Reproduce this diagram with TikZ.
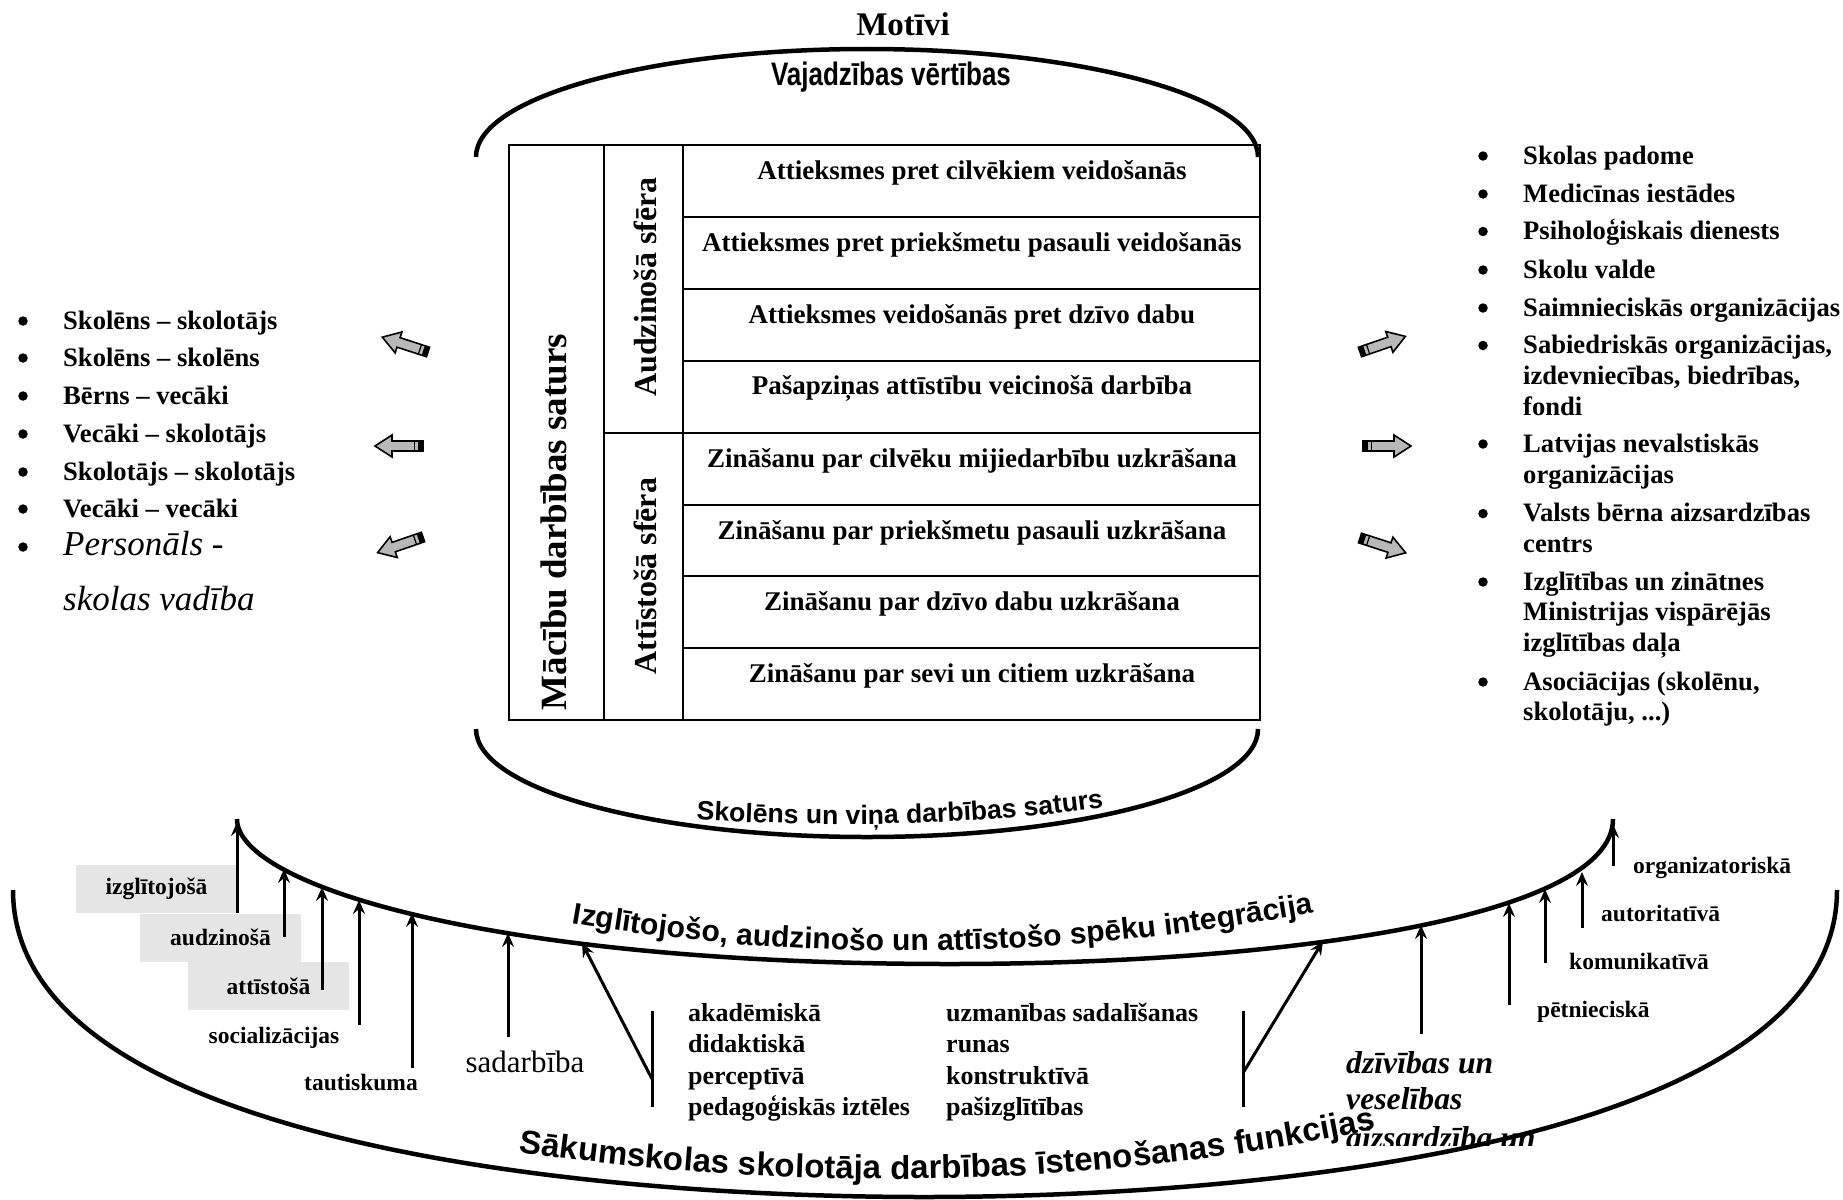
\documentclass[tikz,border=0pt]{standalone}
\usepackage{fontspec}
\setmainfont{Liberation Serif}
\setsansfont{Liberation Sans}
\usepackage{graphicx}
\usepackage{tikz}
\usetikzlibrary{arrows.meta,positioning,calc,decorations.text}

\newcommand{\fsz}[1]{\fontsize{#1}{#1}\selectfont}
% grey block arrow with striped tail: tail x, tail y, angle
\newcommand{\hollowarrow}[3]{%
  \begin{scope}[shift={(#1,#2)}, rotate=#3]
    \filldraw[fill=black!28, line width=1.6pt, line join=miter]
      (0,-5) -- (31,-5) -- (31,-11) -- (48,0) -- (31,11) -- (31,5) -- (0,5) -- cycle;
    \fill (0,-5) rectangle (5,5);
    \draw[line width=1.2pt] (8.5,-5) -- (8.5,5);
  \end{scope}}

\tikzset{
  bowl/.style={line width=4.5pt},
  cellline/.style={line width=2pt},
  celltext/.style={font=\bfseries\fsz{27}},
  sidetext/.style={font=\bfseries\fsz{32}, rotate=90},
  item/.style={font=\bfseries\fsz{26.6}, anchor=base west},
  blt/.style={circle, fill, minimum size=9.5pt},
  funclabel/.style={font=\bfseries\fsz{23.5}},
  skill/.style={font=\bfseries\fsz{26}, anchor=base west},
  greybox/.style={fill=black!10, minimum width=161pt, minimum height=48pt},
  upto/.style={line width=3pt, -{Stealth[length=14pt,width=12pt,inset=5pt]}},
  barline/.style={line width=3pt},
}

\begin{document}
\begin{tikzpicture}[x=1pt, y=-1pt, >=Stealth, every node/.style={inner sep=0pt}]
  \useasboundingbox (0,0) rectangle (1843,1199);

  % upper bowl
  \node[font=\bfseries\fsz{33}] (motivi) at (903,24) {Motīvi};
  \node[font=\sffamily\bfseries\fsz{26}] (vajad) at (891,77) {\scalebox{1}[1.25]{Vajadzības vērtības}};
  \draw[bowl] (476,157) .. controls (476,97) and (651,49) .. (867,49)
                        .. controls (1083,49) and (1258,97) .. (1258,157);
  \draw[bowl] (476,729) .. controls (476,789) and (651,837) .. (867,837)
                        .. controls (1083,837) and (1258,789) .. (1258,729);
  \path[decorate, decoration={text along path, text align=center,
      text={|\sffamily\bfseries\fsz{26.6}|Skolēns un viņa darbības saturs}}]
    (685,819) .. controls (830,828) and (980,826) .. (1115,806);

  % table
  \draw[cellline] (509,145) rectangle (1260,720);
  \draw[cellline] (604,145) -- (604,720) (683,145) -- (683,720);
  \draw[cellline] (604,432.5) -- (1260,432.5);
  \foreach \i in {1,2,3,5,6,7}
    \draw[cellline] (683,{145+71.9*\i}) -- (1260,{145+71.9*\i});
  \foreach \t [count=\i] in {Attieksmes pret cilvēkiem veidošanās,
      Attieksmes pret priekšmetu pasauli veidošanās,
      Attieksmes veidošanās pret dzīvo dabu,
      Pašapziņas attīstību veicinošā darbība,
      Zināšanu par cilvēku mijiedarbību uzkrāšana,
      Zināšanu par priekšmetu pasauli uzkrāšana,
      Zināšanu par dzīvo dabu uzkrāšana,
      Zināšanu par sevi un citiem uzkrāšana}
    \node[celltext] (cell\i) at (972,{101+71.9*\i}) {\t};
  \node[sidetext, font=\bfseries\fsz{37}] (saturs) at (554,522) {Mācību darbības saturs};
  \node[sidetext] (audz) at (645,287) {Audzinošā sfēra};
  \node[sidetext] (attist) at (645,576) {Attīstošā sfēra};

  % left partners
  \foreach \y/\t [count=\i] in {321/Skolēns – skolotājs, 358/Skolēns – skolēns,
      396/Bērns – vecāki, 434/Vecāki – skolotājs, 472/Skolotājs – skolotājs,
      509/Vecāki – vecāki} {
    \node[blt] (lb\i) at (23,\y) {};
    \node[item] (li\i) at (63,{\y+8}) {\t};
  }
  \node[blt] (lb7) at (23,547) {};
  \node[font=\itshape\fsz{35}, anchor=base west] (li7) at (63,555) {Personāls -};
  \node[font=\itshape\fsz{35}, anchor=base west] (li8) at (63,610) {skolas vadība};

  % right partners
  \foreach \y [count=\i] in {156,194,231.5,270,308,345.5,444,513.6,582,682}
    \node[blt] (rb\i) at (1483,\y) {};
  \foreach \y/\t [count=\i] in {156/Skolas padome, 194/Medicīnas iestādes,
      231.5/Psiholoģiskais dienests, 270/Skolu valde,
      308/Saimnieciskās organizācijas, 345.5/{Sabiedriskās organizācijas,},
      376/{izdevniecības, biedrības,}, 407/fondi, 444/Latvijas nevalstiskās,
      475/organizācijas, 513.6/Valsts bērna aizsardzības, 544/centrs,
      582/Izglītības un zinātnes, 612/Ministrijas vispārējās,
      643/izglītības daļa, 682/{Asociācijas (skolēnu,}, 712/{skolotāju, ...)}}
    \node[item] (ri\i) at (1523,{\y+8}) {\t};

  % block arrows
  \hollowarrow{428}{352}{162}
  \hollowarrow{423}{446}{180}
  \hollowarrow{423}{537}{199}
  \hollowarrow{1360}{352}{19}
  \hollowarrow{1363}{446}{0}
  \hollowarrow{1360}{538}{-18}

  % lower bowls: functions
  \draw[bowl] (237,819) .. controls (237,885) and (490,964) .. (950,964)
              .. controls (1280,964) and (1613,918) .. (1613,819);
  \path[decorate, decoration={text along path, text align=center,
      text={|\sffamily\bfseries\fsz{30}|Izglītojošo, audzinošo un attīstošo spēku integrācija}}]
    (555,920) .. controls (800,965) and (1060,960) .. (1330,910);

  \begin{scope}
    \clip (1330,1030) rectangle (1600,1145);
    \node[font=\bfseries\itshape\fsz{31.7}, anchor=base west] (dziv1) at (1346,1073) {dzīvības un};
    \node[font=\bfseries\itshape\fsz{31.7}, anchor=base west] (dziv2) at (1346,1109) {veselības};
    \node[font=\bfseries\itshape\fsz{31.7}, anchor=base west] (dziv3) at (1346,1148) {aizsardzība un};
  \end{scope}

  \draw[bowl] (13,890) .. controls (13,1136) and (560,1197) .. (924,1197)
              .. controls (1288,1197) and (1837,1136) .. (1837,890);
  \path[decorate, decoration={text along path, text align=center,
      text={|\sffamily\bfseries\fsz{33}|Sākumskolas skolotāja darbības īstenošanas funkcijas}}]
    (505,1150) .. controls (780,1192) and (1090,1192) .. (1390,1126);

  % left functions
  \node[greybox, funclabel] (izgl) at (156.5,889) {izglītojošā};
  \node[greybox, funclabel] (audzf) at (220.5,937.5) {audzinošā};
  \node[greybox, funclabel] (attf) at (268.5,986) {attīstošā};
  \node[funclabel, anchor=base] (social) at (274,1043) {socializācijas};
  \node[funclabel, anchor=base] (tauta) at (361,1090) {tautiskuma};
  \node[font=\fsz{31}, anchor=base] (sadarb) at (525,1072) {sadarbība};

  % right functions
  \node[funclabel, anchor=base west] (organ) at (1633,873) {organizatoriskā};
  \node[funclabel, anchor=base west] (autor) at (1601,921) {autoritatīvā};
  \node[funclabel, anchor=base west] (komun) at (1569,969) {komunikatīvā};
  \node[funclabel, anchor=base west] (petn) at (1537,1017) {pētnieciskā};

  % ability lists
  \foreach \y/\t [count=\i] in {1013/akadēmiskā, 1044/didaktiskā, 1076/perceptīvā,
      1107/pedagoģiskās iztēles}
    \node[skill] (sa\i) at (688,{\y+8}) {\t};
  \foreach \y/\t [count=\i] in {1013/uzmanības sadalīšanas, 1044/runas,
      1076/konstruktīvā, 1107/pašizglītības}
    \node[skill] (sb\i) at (946,{\y+8}) {\t};

  % arrows onto the integration arc
  \foreach \x/\ya/\yb [count=\i] in {237/913/822, 284/937/869, 322/990/887,
      359/1025/900, 412/1068/913, 508/1037/933, 1421/1034/925, 1509/1005/903,
      1545/963/889, 1582/928/872, 1613/866/824} {
    \coordinate (s\i) at (\x,\ya);
    \coordinate (t\i) at (\x,\yb);
    \draw[upto] (s\i) -- (t\i);
  }
  \coordinate (bar1top) at (652,1011);
  \coordinate (bar1mid) at (652,1079);
  \coordinate (bar1bot) at (652,1107);
  \coordinate (bar2top) at (1243,1011);
  \coordinate (bar2mid) at (1243,1073);
  \coordinate (bar2bot) at (1243,1107);
  \coordinate (d1) at (582,943);
  \coordinate (d2) at (1323,941);
  \draw[barline] (bar1top) -- (bar1bot);
  \draw[barline] (bar2top) -- (bar2bot);
  \draw[upto] (bar1mid) -- (d1);
  \draw[upto] (bar2mid) -- (d2);
\end{tikzpicture}
\end{document}
